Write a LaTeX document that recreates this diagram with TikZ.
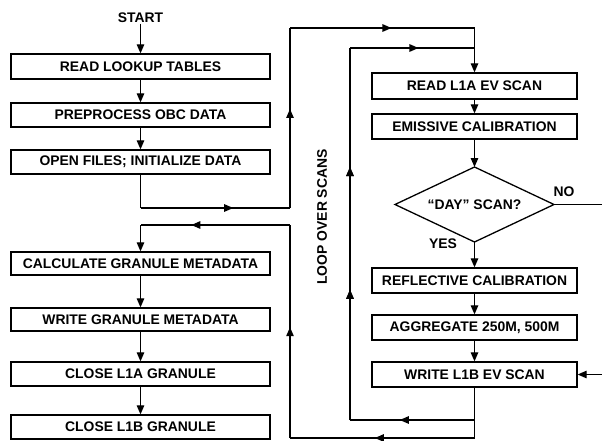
\documentclass[tikz,border=0pt]{standalone}
\usepackage{fontspec}
\setmainfont{Liberation Sans}
\usetikzlibrary{arrows.meta,decorations.markings}
\begin{document}
\begin{tikzpicture}[x=1pt,y=-1pt,
  line width=1.2pt,
  txt/.style={font=\fontsize{13.9}{15}\selectfont\bfseries},
  box/.style={draw, txt, line width=1.3pt, minimum height=24pt, inner sep=0pt},
  lbox/.style={box, minimum width=259pt},
  rbox/.style={box, minimum width=205pt},
  lbl/.style={txt, inner sep=0pt},
  arr/.style={-{Triangle[length=9pt,width=7.5pt]}},
  mid/.style={postaction={decorate},decoration={markings,mark=at position #1 with {\arrow{Triangle[length=9pt,width=7.5pt]}}}}
]
\useasboundingbox (0,0) rectangle (602,441);

% left column
\node[lbl] (start) at (140.5,18) {START};
\node[lbox, minimum height=25pt] (b1) at (140.5,66.5) {READ LOOKUP TABLES};
\node[lbox] (b2) at (140.5,115) {PREPROCESS OBC DATA};
\node[lbox] (b3) at (140.5,162) {OPEN FILES; INITIALIZE DATA};
\node[lbox, minimum height=23pt] (c1) at (140.5,263.5) {CALCULATE GRANULE METADATA};
\node[lbox, minimum height=23pt] (c2) at (140.5,319.5) {WRITE GRANULE METADATA};
\node[lbox] (c3) at (140.5,374) {CLOSE L1A GRANULE};
\node[lbox] (c4) at (140.5,427) {CLOSE L1B GRANULE};

% right column
\node[rbox, minimum height=26pt] (r1) at (474.5,86) {READ L1A EV SCAN};
\node[rbox, minimum height=25pt] (r2) at (474.5,126.5) {EMISSIVE CALIBRATION};
\coordinate (dN) at (474.5,167);
\coordinate (dS) at (474.5,242);
\coordinate (dW) at (395,204.5);
\coordinate (dE) at (554,204.5);
\draw[line width=1.3pt] (dN) -- (dE) -- (dS) -- (dW) -- cycle;
\node[lbl] (d) at (474.5,204.5) {``DAY'' SCAN?};
\node[rbox, minimum height=25pt] (r3) at (474.5,280.5) {REFLECTIVE CALIBRATION};
\node[rbox, minimum height=25pt] (r4) at (474.5,327.5) {AGGREGATE 250M, 500M};
\node[rbox, minimum height=25pt] (r5) at (474.5,374.5) {WRITE L1B EV SCAN};

\node[lbl] (no) at (564,192) {NO};
\node[lbl] (yes) at (443,244) {YES};
\node[lbl, rotate=90] (loop) at (322,217) {LOOP OVER SCANS};

% straight arrows
\draw[arr] (start) -- (b1);
\draw[arr] (b1) -- (b2);
\draw[arr] (b2) -- (b3);
\draw[arr] (c1) -- (c2);
\draw[arr] (c2) -- (c3);
\draw[arr] (c3) -- (c4);
\draw[arr] (r1) -- (r2);
\draw[arr] (r2) -- (dN);
\draw[arr] (dS) -- (r3);
\draw[arr] (r3) -- (r4);
\draw[arr] (r4) -- (r5);

% NO branch and re-entry
\coordinate (noEnd) at (602,204.5);
\draw (dE) -- (noEnd);
\coordinate (inStart) at (602,374.5);
\draw[arr] (inStart) -- (r5.east);

% loop 1: from initialization to first scan
\coordinate (k1) at (140.5,208);
\coordinate (k2) at (290,208);
\coordinate (k3) at (290,28);
\coordinate (k4) at (474.5,28);
\draw (b3.south) -- (k1);
\draw[mid=0.62] (k1) -- (k2);
\draw[mid=0.55] (k2) -- (k3);
\draw[mid=0.55] (k3) -- (k4);
\draw[arr] (k4) -- (r1.north);

% loop 2: over scans
\coordinate (s1) at (474.5,420);
\coordinate (s2) at (350,420);
\coordinate (s3) at (350,48);
\coordinate (s4) at (474.5,48);
\draw (r5.south) -- (s1);
\draw[mid=0.6] (s1) -- (s2);
\draw[mid=0.35, mid=0.68] (s2) -- (s3);
\draw[mid=0.55] (s3) -- (s4);

% loop 3: after all scans
\coordinate (g1) at (474.5,438);
\coordinate (g2) at (290,438);
\coordinate (g3) at (290,225);
\coordinate (g4) at (140.5,225);
\draw (s1) -- (g1);
\draw[mid=0.54] (g1) -- (g2);
\draw[mid=0.52] (g2) -- (g3);
\draw[mid=0.66] (g3) -- (g4);
\draw[arr] (g4) -- (c1.north);
\end{tikzpicture}
\end{document}
